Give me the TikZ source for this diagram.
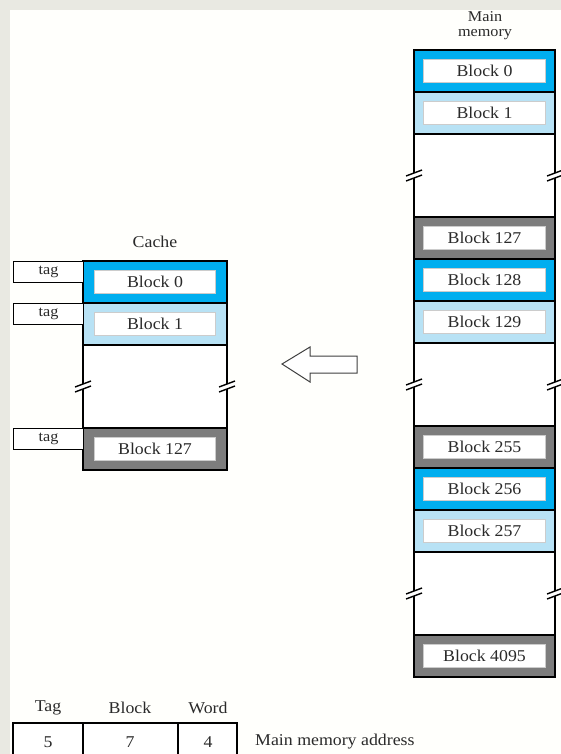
\documentclass[tikz,border=0pt]{standalone}
\usepackage{fontspec}
\setmainfont{Liberation Serif}[FakeStretch=1.08]
\definecolor{cyanblk}{HTML}{00AEEF}
\definecolor{lightblk}{HTML}{B8E2F5}
\definecolor{greyblk}{HTML}{7D7D7D}
\definecolor{bggrey}{HTML}{E9E9E2}
\definecolor{bgwhite}{HTML}{FFFFFC}
\definecolor{txt}{HTML}{2A2A2A}
\tikzset{
  edge/.style={draw=black, line width=2.6pt},
  lbl/.style={draw=black!20, line width=0.6pt, fill=white, inner sep=0pt,
    minimum height=23pt, text=txt, font=\fontsize{16.5}{18}\selectfont},
  tagbox/.style={draw=black, line width=1.2pt, fill=white, inner sep=0pt,
    minimum width=70pt, minimum height=21pt, text=txt,
    font=\fontsize{15}{16}\selectfont},
  plain/.style={inner sep=0pt, text=txt, font=\fontsize{16.5}{18}\selectfont},
  addr/.style={draw=black, line width=2.2pt, fill=white},
  brk/.style={draw=black, line width=1.4pt},
}
\newcommand\memcell[7]{%
  \fill[#5] (#2,#4) rectangle (#3,#4+42);
  \draw[edge] (#2,#4) rectangle (#3,#4+42);
  \node[lbl, minimum width=#7pt] (#1) at ({(#2+#3)/2},#4+21) {#6};
}
\newcommand\breakmark[2]{%
  \fill[white] (#1-8,#2+0.5) -- (#1+8,#2-5.5) -- (#1+8,#2-0.5) -- (#1-8,#2+5.5) -- cycle;
  \draw[brk] (#1-8,#2+0.5) -- (#1+8,#2-5.5);
  \draw[brk] (#1-8,#2+5.5) -- (#1+8,#2-0.5);
}
\newcommand\gapcol[5]{%
  \fill[white] (#1,#3) rectangle (#2,#4);
  \draw[edge] (#1,#3) -- (#1,#4);
  \draw[edge] (#2,#3) -- (#2,#4);
  \breakmark{#1}{#5}
  \breakmark{#2}{#5}
}
\begin{document}
\begin{tikzpicture}[x=1pt,y=-1pt]
\useasboundingbox (0,0) rectangle (561,754);
\clip (0,0) rectangle (561,754);
\fill[bggrey] (0,0) rectangle (561,754);
\fill[bgwhite] (10,10) rectangle (561,754);

% ---------- Main memory ----------
\node[plain, font=\fontsize{15}{16}\selectfont, anchor=base] (mmtitle1) at (485,22) {Main};
\node[plain, font=\fontsize{15}{16}\selectfont, anchor=base] (mmtitle2) at (485,37) {memory};
\gapcol{414}{555}{134}{217}{175.5}
\gapcol{414}{555}{343}{426}{384.5}
\gapcol{414}{555}{552}{635}{593.5}
\memcell{m0}{414}{555}{50}{cyanblk}{Block 0}{122}
\memcell{m1}{414}{555}{92}{lightblk}{Block 1}{122}
\memcell{m127}{414}{555}{217}{greyblk}{Block 127}{122}
\memcell{m128}{414}{555}{259}{cyanblk}{Block 128}{122}
\memcell{m129}{414}{555}{301}{lightblk}{Block 129}{122}
\memcell{m255}{414}{555}{426}{greyblk}{Block 255}{122}
\memcell{m256}{414}{555}{468}{cyanblk}{Block 256}{122}
\memcell{m257}{414}{555}{510}{lightblk}{Block 257}{122}
\memcell{m4095}{414}{555}{635}{greyblk}{Block 4095}{122}

% ---------- Cache ----------
\node[plain] (ctitle) at (155,242) {Cache};
\gapcol{83}{227}{345}{428}{386.5}
\memcell{c0}{83}{227}{261}{cyanblk}{Block 0}{121}
\memcell{c1}{83}{227}{303}{lightblk}{Block 1}{121}
\memcell{c127}{83}{227}{428}{greyblk}{Block 127}{121}
\node[tagbox, anchor=north west] (t0) at (13,260.5) {\raisebox{2pt}{tag}};
\node[tagbox, anchor=north west] (t1) at (13,302.5) {\raisebox{2pt}{tag}};
\node[tagbox, anchor=north west] (t127) at (13,427.5) {\raisebox{2pt}{tag}};

% ---------- Arrow ----------
\draw[draw=black!75, line width=1pt, fill=white, line join=miter]
  (282,364) -- (310,347) -- (310,356) -- (357,356) -- (357,373)
  -- (310,373) -- (310,382) -- cycle;

% ---------- Address ----------
\node[plain] (ltag) at (48,708) {Tag};
\node[plain] (lblock) at (130,708) {Block};
\node[plain] (lword) at (208,708) {Word};
\draw[addr] (13,723) rectangle (83,762);
\draw[addr] (83,723) rectangle (178,762);
\draw[addr] (178,723) rectangle (237,762);
\node[plain] (a5) at (48,742) {5};
\node[plain] (a7) at (130,742) {7};
\node[plain] (a4) at (208,742) {4};
\node[plain, anchor=west] (maddr) at (255,742) {Main memory address};
\end{tikzpicture}
\end{document}
